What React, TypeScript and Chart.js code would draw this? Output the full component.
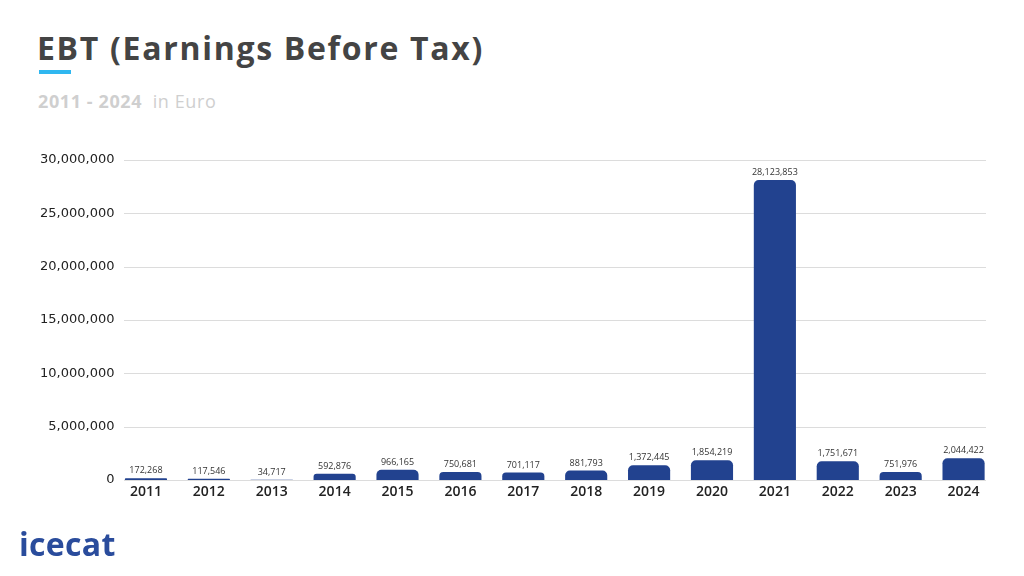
import React, { useEffect, useRef } from "react";
import { Chart, registerables } from "chart.js";

Chart.register(...registerables);

const years = ["2011","2012","2013","2014","2015","2016","2017","2018","2019","2020","2021","2022","2023","2024"];
const ebt = [172268,117546,34717,592876,966165,750681,701117,881793,1372445,1854219,28123853,1751671,751976,2044422];
const yTicks = [0, 5000000, 10000000, 15000000, 20000000, 25000000, 30000000];

const fmt = (v: number) => v.toLocaleString("en-US");

const gridPlugin = {
  id: "customGrid",
  beforeDatasetsDraw(chart: any) {
    const { ctx } = chart;
    const y = chart.scales.y;
    ctx.save();
    ctx.strokeStyle = "#dcdcdc";
    ctx.lineWidth = 1;
    yTicks.forEach((t) => {
      const py = Math.round(y.getPixelForValue(t)) + 0.5;
      ctx.beginPath();
      ctx.moveTo(124, py);
      ctx.lineTo(986, py);
      ctx.stroke();
    });
    ctx.restore();
  },
};

const labelPlugin = {
  id: "valueLabels",
  afterDatasetsDraw(chart: any) {
    const { ctx } = chart;
    const meta = chart.getDatasetMeta(0);
    ctx.save();
    ctx.font = "9px 'Open Sans'";
    ctx.fillStyle = "#333333";
    ctx.textAlign = "center";
    ctx.textBaseline = "bottom";
    meta.data.forEach((el: any, i: number) => {
      ctx.fillText(fmt(ebt[i]), el.x, el.y - 3);
    });
    ctx.restore();
  },
};

export default function App() {
  const ref = useRef<HTMLCanvasElement>(null);
  useEffect(() => {
    if (!ref.current) return;
    const chart = new Chart(ref.current, {
      type: "bar",
      data: {
        labels: years,
        datasets: [
          {
            data: ebt,
            backgroundColor: "#22428f",
            borderRadius: { topLeft: 5, topRight: 5, bottomLeft: 0, bottomRight: 0 },
            borderSkipped: false,
            barPercentage: 0.67,
            categoryPercentage: 1,
          },
        ],
      },
      plugins: [gridPlugin, labelPlugin],
      options: {
        animation: false,
        responsive: false,
        layout: { padding: { left: 0, right: 29, top: 160, bottom: 66 } },
        plugins: { legend: { display: false }, tooltip: { enabled: false } },
        scales: {
          x: {
            grid: { display: false, drawTicks: false },
            border: { display: false },
            ticks: {
              color: "#222222",
              font: { family: "'Open Sans'", size: 14, weight: "600" },
              maxRotation: 0,
              autoSkip: false,
              padding: 4,
            },
            afterFit: (s: any) => { s.height = 30; },
          },
          y: {
            min: 0,
            max: 30000000,
            grid: { display: false, drawTicks: false },
            border: { display: false },
            ticks: {
              stepSize: 5000000,
              color: "#222222",
              font: { family: "'DejaVu Sans'", size: 13 },
              padding: 0,
              callback: (v: any) => fmt(Number(v)),
            },
            afterFit: (s: any) => { s.width = 114.5; },
          },
        },
      },
    });
    return () => chart.destroy();
  }, []);

  return (
    <div style={{ position: "fixed", left: 0, top: 0, width: 1024, height: 576, background: "#fff", overflow: "hidden" }}>
      <div style={{ position: "absolute", left: 37, top: 27, fontFamily: "'Open Sans'", fontWeight: 700, fontSize: 32, letterSpacing: 1.7, color: "#444444", whiteSpace: "nowrap", lineHeight: "42px" }}>
        EBT (Earnings Before Tax)
      </div>
      <div style={{ position: "absolute", left: 39, top: 70, width: 32, height: 4, background: "#2fb7f0" }} />
      <div style={{ position: "absolute", left: 38, top: 90, fontFamily: "'Open Sans'", fontSize: 18, letterSpacing: 0.6, color: "#cfcfcf", whiteSpace: "nowrap", lineHeight: "22px" }}>
        <span style={{ fontWeight: 700 }}>2011 - 2024</span>
        <span>&nbsp;&nbsp;in Euro</span>
      </div>
      <canvas ref={ref} width={1024} height={576} style={{ position: "absolute", left: 0, top: 0 }} />
      <div style={{ position: "absolute", left: 19, top: 524, fontFamily: "'Open Sans'", fontWeight: 700, fontSize: 32, color: "#2a4c9c", lineHeight: "40px", letterSpacing: 0.3 }}>
        icecat
      </div>
    </div>
  );
}
